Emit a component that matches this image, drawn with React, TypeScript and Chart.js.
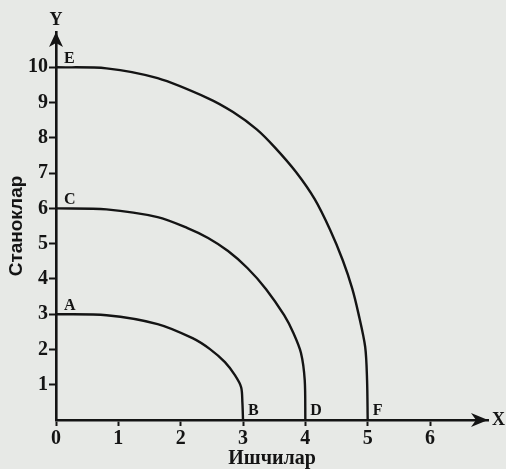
import { useEffect, useRef } from 'react';
import { Chart, registerables } from 'chart.js';

Chart.register(...registerables);

// ---- data ----
const xMin = 0;
const xMax = 6.93;
const yMin = 0;
const yMax = 11;
const xTickValues = [0, 1, 2, 3, 4, 5, 6];
const yTickValues = [1, 2, 3, 4, 5, 6, 7, 8, 9, 10];

// curve A–B
const curveABx = [0, 0.81, 1.63, 2.19, 2.47, 2.71, 2.87, 2.97, 2.99, 3];
const curveABy = [3, 2.97, 2.72, 2.32, 2.01, 1.64, 1.27, 0.93, 0.5, 0];
// curve C–D
const curveCDx = [0, 0.81, 1.63, 2.11, 2.44, 2.76, 3.07, 3.37, 3.66, 3.81, 3.93, 3.99, 4];
const curveCDy = [6, 5.97, 5.75, 5.44, 5.16, 4.79, 4.31, 3.71, 2.97, 2.46, 1.9, 1.13, 0];
// curve E–F
const curveEFx = [0, 0.81, 1.63, 2.44, 2.84, 3.22, 3.51, 3.85, 4.15, 4.4, 4.6, 4.75, 4.85, 4.96, 4.99, 5];
const curveEFy = [10, 9.97, 9.69, 9.12, 8.73, 8.24, 7.73, 7.03, 6.26, 5.38, 4.53, 3.74, 3.03, 2.07, 1.13, 0];

const curveStartLabels = ['A', 'C', 'E'];
const curveEndLabels = ['B', 'D', 'F'];

const xAxisTitle = 'Ишчилар';
const yAxisTitle = 'Станоклар';
const xAxisLetter = 'X';
const yAxisLetter = 'Y';

const BG = '#e7e9e6';
const INK = '#141414';

const toPoints = (xs: number[], ys: number[]) => xs.map((x, i) => ({ x, y: ys[i] }));

const background = {
  id: 'bg',
  beforeDraw(chart: any) {
    const { ctx, width, height } = chart;
    ctx.save();
    ctx.fillStyle = BG;
    ctx.fillRect(0, 0, width, height);
    ctx.restore();
  },
};

const annotate = {
  id: 'annotate',
  afterDraw(chart: any) {
    const ctx = chart.ctx as CanvasRenderingContext2D;
    const { left, right, top, bottom } = chart.chartArea;
    ctx.save();
    ctx.fillStyle = INK;
    // y arrow
    ctx.beginPath();
    ctx.moveTo(left, top);
    ctx.lineTo(left - 7, top + 15);
    ctx.lineTo(left, top + 11);
    ctx.lineTo(left + 7, top + 15);
    ctx.closePath();
    ctx.fill();
    // x arrow
    ctx.beginPath();
    ctx.moveTo(right, bottom);
    ctx.lineTo(right - 17, bottom - 7);
    ctx.lineTo(right - 12, bottom);
    ctx.lineTo(right - 17, bottom + 7);
    ctx.closePath();
    ctx.fill();

    ctx.font = 'bold 18px "Liberation Serif"';
    ctx.textAlign = 'center';
    ctx.textBaseline = 'alphabetic';
    ctx.fillText(yAxisLetter, left, top - 7);
    ctx.textAlign = 'left';
    ctx.fillText(xAxisLetter, right + 4, bottom + 5);

    ctx.font = 'bold 16px "Liberation Serif"';
    chart.data.datasets.forEach((_ds: any, i: number) => {
      const meta = chart.getDatasetMeta(i);
      const first = meta.data[0];
      const last = meta.data[meta.data.length - 1];
      ctx.textAlign = 'left';
      ctx.textBaseline = 'alphabetic';
      ctx.fillText(curveStartLabels[i], first.x + 8, first.y - 4);
      ctx.fillText(curveEndLabels[i], last.x + 5, last.y - 5);
    });
    ctx.restore();
  },
};

export default function App() {
  const ref = useRef<HTMLCanvasElement | null>(null);

  useEffect(() => {
    if (!ref.current) return;
    const curves = [
      toPoints(curveABx, curveABy),
      toPoints(curveCDx, curveCDy),
      toPoints(curveEFx, curveEFy),
    ];
    const chart = new Chart(ref.current, {
      type: 'line',
      data: {
        datasets: curves.map((data) => ({
          data,
          borderColor: INK,
          borderWidth: 2.4,
          pointRadius: 0,
          fill: false,
          tension: 0.3,
          clip: false as any,
        })),
      },
      plugins: [background, annotate],
      options: {
        animation: false,
        responsive: false,
        devicePixelRatio: 1,
        layout: { padding: { top: 32, right: 18, left: 0, bottom: 0 } },
        plugins: { legend: { display: false }, tooltip: { enabled: false } },
        scales: {
          x: {
            type: 'linear',
            min: xMin,
            max: xMax,
            afterBuildTicks: (scale: any) => {
              scale.ticks = xTickValues.map((value) => ({ value }));
            },
            afterFit: (scale: any) => {
              scale.height = 49;
            },
            grid: {
              drawOnChartArea: false,
              drawTicks: true,
              tickLength: 6,
              tickWidth: 2,
              tickColor: INK,
            },
            border: { display: true, color: INK, width: 2.6 },
            ticks: {
              color: INK,
              padding: 1,
              maxRotation: 0,
              font: { family: '"Liberation Serif"', size: 20, weight: 'bold' },
              callback: (v: any) => String(v),
            },
            title: {
              display: true,
              text: xAxisTitle,
              color: INK,
              font: { family: '"Liberation Serif"', size: 20, weight: 'bold', lineHeight: 1 },
              padding: { top: 0, bottom: 0 },
            },
          },
          y: {
            type: 'linear',
            min: yMin,
            max: yMax,
            afterBuildTicks: (scale: any) => {
              scale.ticks = yTickValues.map((value) => ({ value }));
            },
            afterFit: (scale: any) => {
              scale.width = 56;
            },
            grid: {
              drawOnChartArea: false,
              drawTicks: true,
              tickLength: 7,
              tickWidth: 2,
              tickColor: INK,
            },
            border: { display: true, color: INK, width: 2.6 },
            ticks: {
              color: INK,
              padding: 1,
              font: { family: '"Liberation Serif"', size: 20, weight: 'bold' },
              callback: (v: any) => String(v),
            },
            title: {
              display: true,
              text: yAxisTitle,
              color: INK,
              font: { family: '"Liberation Sans"', size: 19, weight: 'bold', lineHeight: 1.2 },
              padding: { top: 5, bottom: 0 },
            },
          },
        },
      },
    });
    return () => chart.destroy();
  }, []);

  return (
    <div style={{ position: 'absolute', left: 0, top: 0, width: 506, height: 469 }}>
      <canvas ref={ref} width={506} height={469} />
    </div>
  );
}
